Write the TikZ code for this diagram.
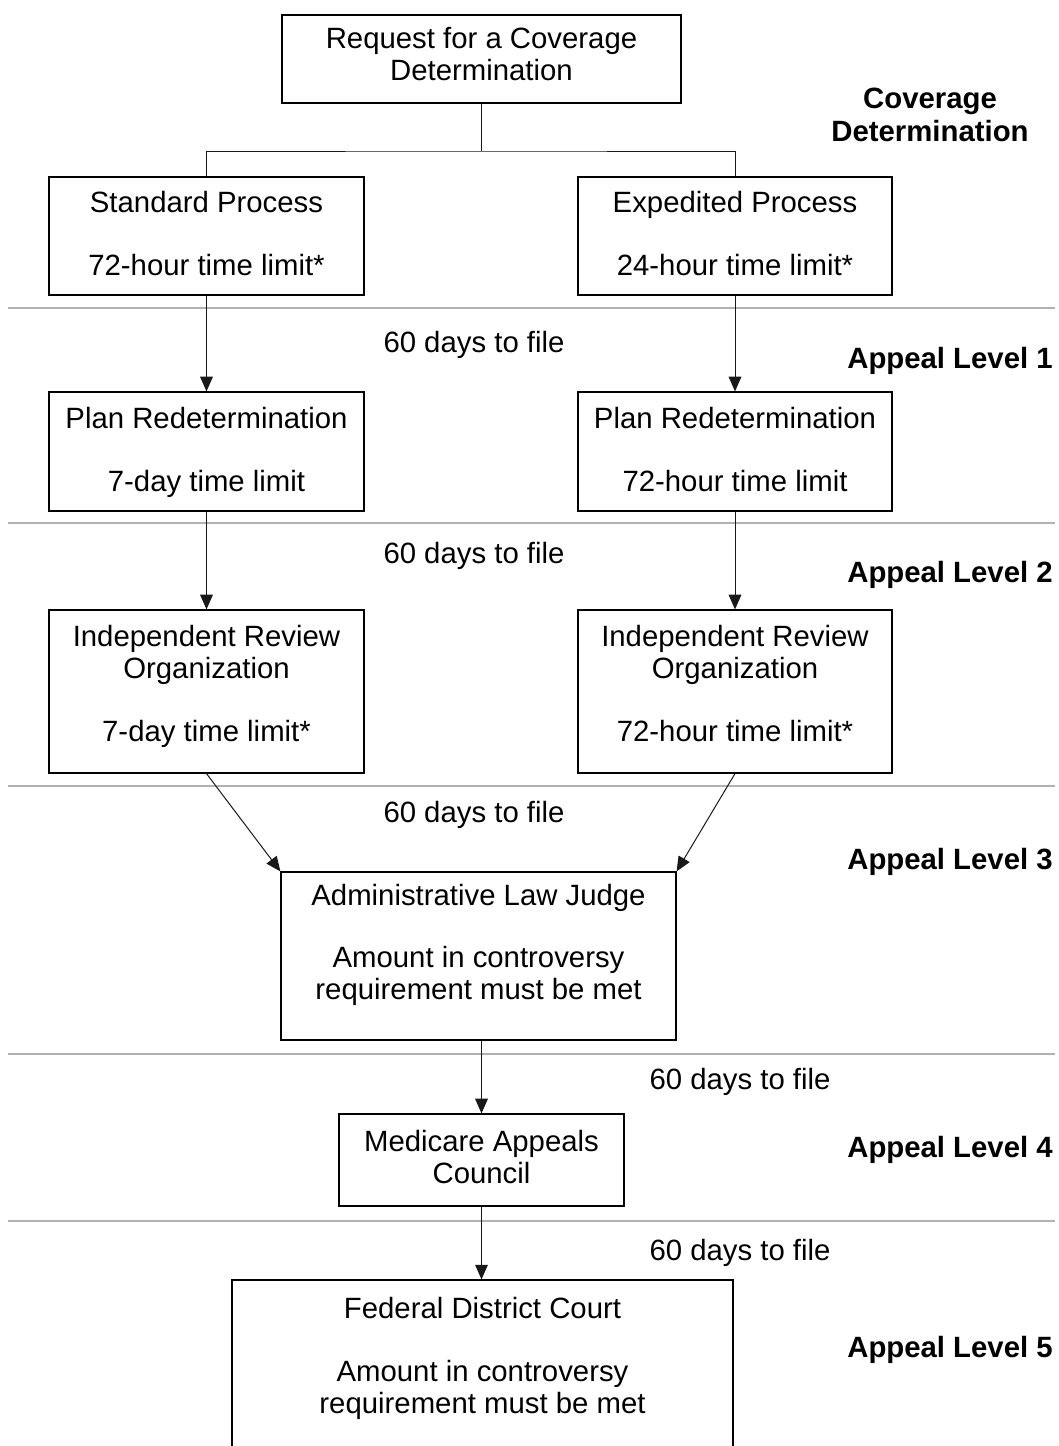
\documentclass[tikz,border=0pt]{standalone}
\usepackage{fontspec}
\setmainfont{Liberation Sans}
\usetikzlibrary{arrows.meta}
\begin{document}
\begin{tikzpicture}[x=0.75pt,y=-0.75pt,
  box/.style={draw=black,line width=0.9pt,inner sep=0pt,fill=white},
  txt/.style={align=center,font=\fontsize{22}{24}\selectfont,inner sep=0pt},
  lvl/.style={align=center,font=\fontsize{22}{25}\selectfont\bfseries,inner sep=0pt},
  conn/.style={line width=0.75pt,draw=black!90},
  arr/.style={conn,-{Triangle[length=11pt,width=9.5pt]}},
  sep/.style={line width=1.2pt,draw=black!30}]
\clip (0,0) rectangle (1059,1446);
\useasboundingbox (0,0) rectangle (1059,1446);
% separators
\foreach \yy/\nm in {308/s1,523/s2,786/s3,1054/s4,1221/s5}{
  \coordinate (\nm a) at (8,\yy); \coordinate (\nm b) at (1055,\yy);
  \draw[sep] (\nm a) -- (\nm b);}
% boxes
\node[box,minimum width=299.25pt,minimum height=66pt] (top) at (481.5,59) {};
\node[box,minimum width=236.25pt,minimum height=88.5pt] (std) at (206.5,236) {};
\node[box,minimum width=235.5pt,minimum height=88.5pt] (exp) at (735,236) {};
\node[box,minimum width=236.25pt,minimum height=89.25pt] (pr1) at (206.5,451.5) {};
\node[box,minimum width=235.5pt,minimum height=89.25pt] (pr2) at (735,451.5) {};
\node[box,minimum width=236.25pt,minimum height=122.25pt] (iro1) at (206.5,691.5) {};
\node[box,minimum width=235.5pt,minimum height=122.25pt] (iro2) at (735,691.5) {};
\node[box,minimum width=296.25pt,minimum height=126pt] (alj) at (478.5,956) {};
\node[box,minimum width=213.75pt,minimum height=69pt] (mac) at (481.5,1160) {};
\node[box,minimum width=375.75pt,minimum height=180pt] (fdc) at (482.5,1400) {};
% box texts
\node[txt] (topT) at (481.5,54) {Request for a Coverage\\Determination};
\node[txt] (stdT) at (206.5,233.5) {Standard Process\\[23pt]72-hour time limit*};
\node[txt] (expT) at (735,233.5) {Expedited Process\\[23pt]24-hour time limit*};
\node[txt] (pr1T) at (206.5,452.5) {Plan Redetermination\\[23pt]7-day time limit};
\node[txt] (pr2T) at (735,452.5) {Plan Redetermination\\[23pt]72-hour time limit\vphantom{y}};
\node[txt] (iro1T) at (206.5,686.5) {Independent Review\\Organization\\[23pt]7-day time limit*};
\node[txt] (iro2T) at (735,686.5) {Independent Review\\Organization\\[23pt]72-hour time limit*\vphantom{y}};
\node[txt] (aljT) at (478.5,945) {Administrative Law Judge\\[23pt]Amount in controversy\\requirement must be met};
\node[txt] (macT) at (481.5,1157) {Medicare Appeals\\Council};
\node[txt] (fdcT) at (482.5,1358.5) {Federal District Court\\[23pt]Amount in controversy\\requirement must be met};
% connectors
\coordinate (fork) at (481.5,151);
\draw[conn] (top.south) -- (fork);
\draw[conn] (std.north) |- (fork) -| (exp.north);
\draw[arr] (std.south) -- (pr1.north);
\draw[arr] (exp.south) -- (pr2.north);
\draw[arr] (pr1.south) -- (iro1.north);
\draw[arr] (pr2.south) -- (iro2.north);
\draw[arr] (iro1.south) -- (alj.north west);
\draw[arr] (iro2.south) -- (alj.north east);
\draw[arr] (mac.north |- alj.south) -- (mac.north);
\draw[arr] (mac.south) -- (mac.south |- fdc.north);
% filing labels
\node[txt] (f1) at (474,345) {60 days to file};
\node[txt] (f2) at (474,556) {60 days to file};
\node[txt] (f3) at (474,815) {60 days to file};
\node[txt] (f4) at (740,1082) {60 days to file};
\node[txt] (f5) at (740,1253) {60 days to file};
% level labels
\node[lvl] (l0) at (930,115) {Coverage\\Determination};
\node[lvl,anchor=east] (l1) at (1053,361) {Appeal Level 1};
\node[lvl,anchor=east] (l2) at (1053,575) {Appeal Level 2};
\node[lvl,anchor=east] (l3) at (1053,862) {Appeal Level 3};
\node[lvl,anchor=east] (l4) at (1053,1150) {Appeal Level 4};
\node[lvl,anchor=east] (l5) at (1053,1350) {Appeal Level 5};
\end{tikzpicture}
\end{document}
